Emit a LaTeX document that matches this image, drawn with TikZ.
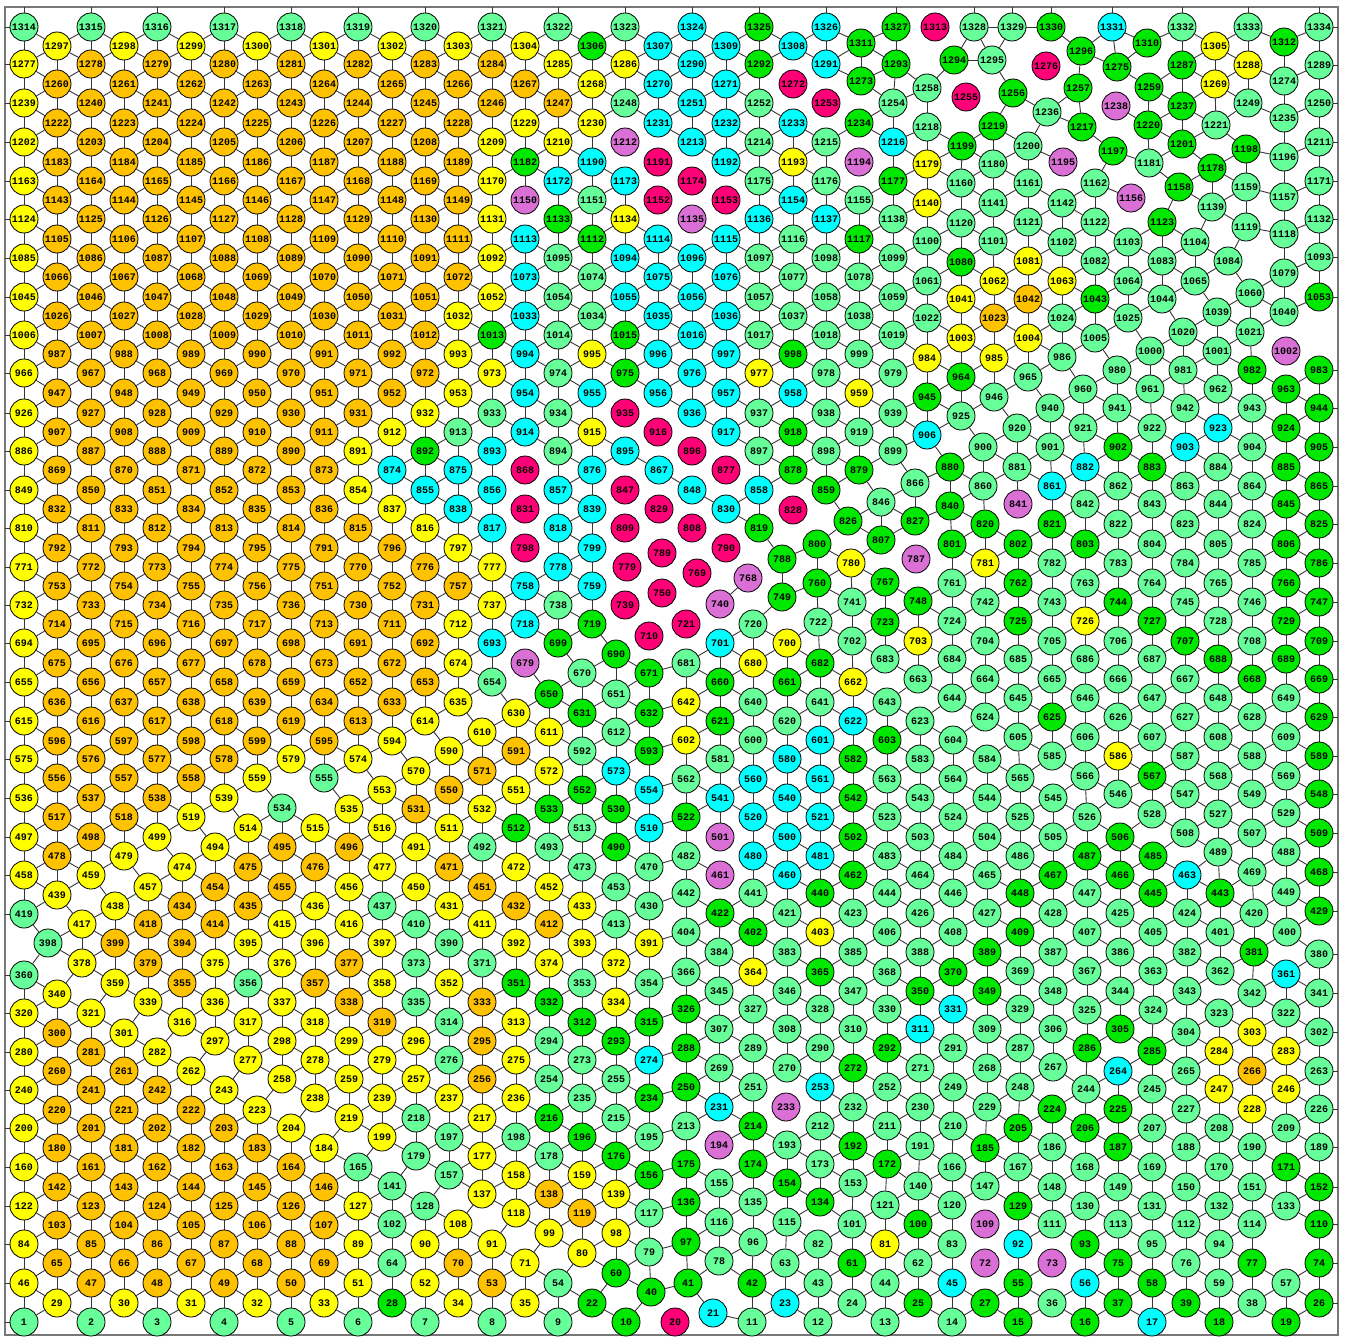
\documentclass[tikz,border=0pt]{standalone}
\usepackage{fontspec}
\setmonofont{Liberation Mono}
\usetikzlibrary{backgrounds}
\definecolor{mintgreen}{RGB}{102,255,153}
\definecolor{brightgreen}{RGB}{0,232,0}
\definecolor{sunyellow}{RGB}{255,255,0}
\definecolor{amber}{RGB}{255,194,0}
\definecolor{aqua}{RGB}{0,255,255}
\definecolor{hotpink}{RGB}{255,0,119}
\definecolor{orchidpurple}{RGB}{218,112,214}
\definecolor{linkgray}{RGB}{55,55,55}
\definecolor{framegray}{RGB}{120,120,120}
\newcount\ja
\newcount\jend
\def\nx#1{\csname px@#1\endcsname}
\def\ny#1{\csname py@#1\endcsname}
\def\nok#1{\csname pk@#1\endcsname}
\def\edgerange{1700}
\tikzset{
  sensor/.style={circle, draw=black, line width=0.8pt, minimum size=28pt, inner sep=0pt,
                 font=\ttfamily\bfseries\fontsize{10}{10}\selectfont},
  sm/.style={sensor, fill=mintgreen},
  sg/.style={sensor, fill=brightgreen},
  sy/.style={sensor, fill=sunyellow},
  so/.style={sensor, fill=amber},
  sc/.style={sensor, fill=aqua},
  sr/.style={sensor, fill=hotpink},
  sv/.style={sensor, fill=orchidpurple},
  link/.style={draw=linkgray, line width=0.9pt},
  frameline/.style={draw=framegray, line width=1.6pt},
}
% id/x/y/colour, x and y read off a 3x crop whose corner is (#1,#2)
\newcommand{\placetile}[3]{%
  \foreach \i/\x/\y/\col in {#3}{%
    \edef\nid{\number\i}%
    \edef\px{\the\numexpr#1+\x/3\relax}%
    \edef\py{\the\numexpr#2+\y/3\relax}%
    \expandafter\xdef\csname px@\nid\endcsname{\px}%
    \expandafter\xdef\csname py@\nid\endcsname{\py}%
    \expandafter\xdef\csname pk@\nid\endcsname{\if r\col0\else\if v\col0\else1\fi\fi}%
    \node[s\col] (n\nid) at (\px,\py) {\nid};
  }}

\begin{document}
\begin{tikzpicture}[x=1pt, y=-1pt]
\useasboundingbox (0,0) rectangle (1346,1338);
\coordinate (frameNW) at (5,7);
\coordinate (frameSE) at (1338,1335);

\placetile{0}{0}{1314/72/80/m,1315/272/80/m,1316/472/80/m,1317/672/80/m,1318/872/80/m,
1297/172/137/y,1298/372/137/y,1299/572/137/y,1300/772/137/y,1301/972/137/y,
1277/72/193/y,1278/272/193/o,1279/472/193/o,1280/672/193/o,1281/872/193/o,
1260/172/253/o,1261/372/253/o,1262/572/253/o,1263/772/253/o,1264/972/253/o,
1239/72/310/y,1240/272/310/o,1241/472/310/o,1242/672/310/o,1243/872/310/o,
1222/172/368/o,1223/372/368/o,1224/572/368/o,1225/772/368/o,1226/972/368/o,
1202/72/425/y,1203/272/425/o,1204/472/425/o,1205/672/425/o,1206/872/425/o,
1183/172/485/o,1184/372/485/o,1185/572/485/o,1186/772/485/o,1187/972/485/o,
1163/72/542/y,1164/272/542/o,1165/472/542/o,1166/672/542/o,1167/872/542/o,
1143/172/599/o,1144/372/599/o,1145/572/599/o,1146/772/599/o,1147/972/599/o,
1124/72/658/y,1125/272/658/o,1126/472/658/o,1127/672/658/o,1128/872/658/o,
1105/172/716/o,1106/372/716/o,1107/572/716/o,1108/772/716/o,1109/972/716/o,
1085/72/773/y,1086/272/773/o,1087/472/773/o,1088/672/773/o,1089/872/773/o,
1066/172/832/o,1067/372/832/o,1068/572/832/o,1069/772/832/o,1070/972/832/o,
1045/72/890/y,1046/272/890/o,1047/472/890/o,1048/672/890/o,1049/872/890/o,
1026/172/947/o,1027/372/947/o,1028/572/947/o,1029/772/947/o,1030/972/947/o,
1006/72/1005/y,1007/272/1005/o,1008/472/1005/o,1009/672/1005/o,1010/872/1005/o,
987/172/1063/o,988/372/1063/o,989/572/1063/o,990/772/1063/o,991/972/1063/o,
966/72/1120/y,967/272/1120/o,968/472/1120/o,969/672/1120/o,970/872/1120/o,
947/172/1178/o,948/372/1178/o,949/572/1178/o,950/772/1178/o,951/972/1178/o,
926/72/1238/y,927/272/1238/o,928/472/1238/o,929/672/1238/o,930/872/1238/o,
907/172/1295/o,908/372/1295/o,909/572/1295/o,910/772/1295/o,911/972/1295/o}

\placetile{330}{0}{1319/85/80/m,1320/285/80/m,1321/485/80/m,1322/685/80/m,1323/885/80/m,
1302/185/137/y,1303/385/137/y,1304/585/137/y,1306/785/137/g,1307/985/137/c,
1282/85/193/o,1283/285/193/o,1284/485/193/o,1285/685/193/y,1286/885/193/y,
1265/185/253/o,1266/385/253/o,1267/585/253/o,1268/785/253/y,1270/985/253/c,
1244/85/310/o,1245/285/310/o,1246/485/310/o,1247/685/310/o,1248/885/310/m,
1227/185/368/o,1228/385/368/o,1229/585/368/y,1230/785/368/y,1231/985/368/c,
1207/85/425/o,1208/285/425/o,1209/485/425/y,1210/685/425/y,1212/885/425/v,
1188/185/485/o,1189/385/485/o,1182/585/485/g,1190/785/485/c,1191/985/485/r,
1168/85/542/o,1169/285/542/o,1170/485/542/y,1172/685/542/c,1173/885/542/c,
1148/185/599/o,1149/385/599/o,1150/585/599/v,1151/785/599/m,1152/985/599/r,
1129/85/658/o,1130/285/658/o,1131/485/658/y,1133/685/658/g,1134/885/658/y,
1110/185/716/o,1111/385/716/o,1113/585/716/c,1112/785/716/g,1114/985/716/c,
1090/85/773/o,1091/285/773/o,1092/485/773/y,1095/685/773/m,1094/885/773/c,
1071/185/832/o,1072/385/832/o,1073/585/832/c,1074/785/832/m,1075/985/832/c,
1050/85/890/o,1051/285/890/o,1052/485/890/y,1054/685/890/m,1055/885/890/c,
1031/185/947/o,1032/385/947/y,1033/585/947/c,1034/785/947/m,1035/985/947/c,
1011/85/1005/o,1012/285/1005/o,1013/485/1005/g,1014/685/1005/m,1015/885/1005/g,
992/185/1063/o,993/385/1063/y,994/585/1063/c,995/785/1063/y,996/985/1063/c,
971/85/1120/o,972/285/1120/o,973/485/1120/y,974/685/1120/m,975/885/1120/g,
952/185/1178/o,953/385/1178/y,954/585/1178/c,955/785/1178/c,956/985/1178/c,
931/85/1238/o,932/285/1238/y,933/485/1238/m,934/685/1238/m,935/885/1238/r,
912/185/1295/y,913/385/1295/m,914/585/1295/c,915/785/1295/y,916/985/1295/r}

\placetile{660}{0}{1324/97/80/c,1325/298/80/g,1326/498/80/c,1311/603/128/g,1327/708/80/g,1313/825/80/r,1328/942/80/m,
1309/197/137/c,1308/398/137/c,1290/97/193/c,1292/298/193/g,1291/498/193/c,1293/708/193/g,1294/882/180/g,1295/995/180/m,
1271/197/253/c,1272/398/253/r,1273/603/242/g,1258/802/263/m,1255/918/290/r,
1251/97/310/c,1252/298/310/m,1253/498/310/r,1254/698/310/m,
1232/197/368/c,1233/398/368/c,1234/598/368/g,1218/802/380/m,1219/1000/378/g,
1213/97/425/c,1214/298/425/m,1215/498/425/m,1216/698/425/c,1199/905/437/g,
1192/197/485/c,1193/398/485/y,1194/598/485/v,1179/802/493/y,1180/1000/493/m,
1174/97/542/r,1175/298/542/m,1176/498/542/m,1177/698/542/g,1160/902/550/m,
1153/197/599/r,1154/398/599/c,1155/598/599/m,1140/802/610/y,1141/1000/608/m,
1135/97/658/v,1136/298/658/c,1137/498/658/c,1138/698/658/m,1120/902/668/m,
1115/197/716/c,1116/398/716/m,1117/598/716/g,1100/802/724/m,1101/1000/724/m,
1096/97/773/c,1097/298/773/m,1098/498/773/m,1099/698/773/m,1080/902/785/g,
1076/197/832/c,1077/398/832/m,1078/598/832/m,1061/802/842/m,1062/1003/842/y,
1056/97/890/c,1057/298/890/m,1058/498/890/m,1059/698/890/m,1041/902/898/y,
1036/197/947/c,1037/398/947/m,1038/598/947/m,1022/802/955/m,1023/1003/955/o,
1016/97/1005/c,1017/298/1005/m,1018/498/1005/m,1019/698/1005/m,1003/902/1015/y,
997/197/1063/c,998/398/1063/g,999/598/1063/m,984/802/1073/y,985/1003/1073/y,
976/97/1120/c,977/298/1120/y,978/498/1120/m,979/698/1120/m,964/902/1130/g,
957/197/1178/c,958/398/1178/c,959/598/1178/y,945/802/1190/g,946/1003/1190/m,
936/97/1238/c,937/298/1238/m,938/498/1238/m,939/698/1238/m,925/902/1247/m,
917/197/1295/c,918/398/1295/g,919/598/1295/m,906/802/1305/c}

\placetile{995}{0}{1329/52/80/m,1330/168/80/g,1331/350/80/c,1332/560/80/m,1333/760/80/m,1334/972/80/m,
1310/455/128/g,1305/660/137/y,1312/866/125/g,
1296/258/152/g,1276/152/197/r,1275/365/200/g,1287/560/195/g,1288/760/195/y,1289/972/195/m,
1256/55/278/g,1257/248/265/g,1259/462/260/g,1269/660/253/y,1274/866/242/m,
1238/362/317/v,1237/562/317/g,1249/760/310/m,1250/972/310/m,
1236/155/335/m,1217/262/380/g,1220/460/375/g,1221/662/375/m,1235/866/355/m,
1200/100/437/m,1201/562/433/g,1198/752/448/g,1211/972/425/m,
1195/205/485/v,1197/355/452/g,1181/462/490/m,1196/866/472/m,
1178/652/505/g,1171/972/542/m,
1161/100/550/m,1162/300/550/m,1158/552/562/g,1159/752/562/m,1157/866/590/m,
1156/408/595/v,1142/200/610/m,1139/652/622/m,
1121/100/667/m,1122/300/667/m,1123/500/667/g,1119/752/680/m,1132/972/658/m,1118/866/703/m,
1102/200/725/m,1103/400/725/m,1104/600/725/m,
1081/100/783/y,1082/300/783/m,1083/500/783/m,1084/700/782/m,1093/972/772/m,
1063/200/842/y,1064/400/842/m,1065/600/842/m,1079/866/820/m,
1042/100/898/o,1043/300/898/g,1044/500/898/m,1060/765/878/m,1053/972/890/g,
1024/200/955/m,1025/400/955/m,1039/665/937/m,1040/866/935/m,
1004/100/1015/y,1005/300/1015/m,1020/565/995/m,1021/765/995/m,
986/200/1072/m,1000/465/1052/m,1001/665/1052/m,1002/872/1052/v,
965/100/1130/m,980/365/1110/m,981/565/1110/m,982/770/1110/g,983/972/1110/g,
960/265/1168/m,961/465/1168/m,962/670/1168/m,963/872/1168/g,
940/165/1225/m,941/365/1225/m,942/570/1225/m,943/770/1225/m,944/972/1225/g,
920/65/1283/m,921/265/1283/m,922/470/1283/m,923/670/1283/c,924/872/1283/g}

\placetile{0}{440}{886/72/32/y,887/272/32/o,888/472/32/o,889/672/32/o,890/872/32/o,
869/172/89/o,870/372/89/o,871/572/89/o,872/772/89/o,873/972/89/o,
849/72/149/y,850/272/149/o,851/472/149/o,852/672/149/o,853/872/149/o,
832/172/206/o,833/372/206/o,834/572/206/o,835/772/206/o,836/972/206/o,
810/72/263/y,811/272/263/o,812/472/263/o,813/672/263/o,814/872/263/o,
792/172/323/o,793/372/323/o,794/572/323/o,795/772/323/o,791/972/323/o,
771/72/380/y,772/272/380/o,773/472/380/o,774/672/380/o,775/872/380/o,
753/172/437/o,754/372/437/o,755/572/437/o,756/772/437/o,751/972/437/o,
732/72/494/y,733/272/494/o,734/472/494/o,735/672/494/o,736/872/494/o,
714/172/553/o,715/372/553/o,716/572/553/o,717/772/553/o,713/972/553/o,
694/72/610/y,695/272/610/o,696/472/610/o,697/672/610/o,698/872/610/o,
675/172/668/o,676/372/668/o,677/572/668/o,678/772/668/o,673/972/668/o,
655/72/727/y,656/272/727/o,657/472/727/o,658/672/727/o,659/872/727/o,
636/172/785/o,637/372/785/o,638/572/785/o,639/772/785/o,634/972/785/o,
615/72/842/y,616/272/842/o,617/472/842/o,618/672/842/o,619/872/842/o,
596/172/902/o,597/372/902/o,598/572/902/o,599/772/902/o,595/972/902/o,
575/72/958/y,576/272/958/o,577/472/958/o,578/672/958/o,579/872/958/y,
556/172/1015/o,557/372/1015/o,558/572/1015/o,559/772/1015/y,555/972/1015/m,
536/72/1073/y,537/272/1073/o,538/472/1073/o,539/672/1073/y,534/845/1105/m,
517/172/1132/o,518/372/1132/o,519/572/1132/y,514/745/1165/y,515/945/1165/y,
497/72/1190/y,498/272/1190/o,499/472/1190/y,494/645/1222/y,495/845/1222/o,
478/172/1247/o,479/372/1247/y,474/545/1280/y,475/745/1280/o,476/945/1280/o,
458/72/1305/y,459/272/1305/y}

\placetile{330}{440}{891/85/32/y,892/285/32/g,893/485/32/c,894/685/32/m,895/885/32/c,
874/185/89/c,875/385/89/c,868/585/89/r,876/785/89/c,867/987/89/c,
854/85/149/y,855/285/149/c,856/485/149/c,857/685/149/c,847/885/149/r,
837/185/206/y,838/385/206/c,831/585/206/r,839/785/206/c,829/987/206/r,
815/85/263/o,816/285/263/y,817/485/263/c,818/685/263/c,809/885/263/r,
796/185/323/o,797/385/323/y,798/585/323/r,799/785/323/c,789/995/340/r,
770/85/380/o,776/285/380/o,777/485/380/y,778/685/380/c,779/890/380/r,
752/185/437/o,757/385/437/o,758/585/437/c,759/785/437/c,750/995/458/r,
730/85/494/o,731/285/494/o,737/485/494/y,738/685/494/m,739/885/494/r,
711/185/553/o,712/385/553/y,718/585/553/c,719/785/553/g,710/958/587/r,
691/85/610/o,692/285/610/o,693/485/610/c,699/685/610/g,690/858/643/g,
672/185/668/o,674/385/668/y,679/585/668/v,670/757/700/m,671/958/700/g,
652/85/727/o,653/285/727/o,654/485/727/m,650/657/762/g,651/858/762/m,
633/185/785/o,635/385/785/y,630/557/818/y,631/757/818/g,632/958/818/g,
613/85/842/o,614/285/842/y,610/457/875/y,611/657/875/y,612/858/875/m,
594/185/902/y,590/357/932/y,591/557/932/o,592/757/932/m,593/958/932/g,
574/85/958/y,570/257/992/y,571/457/992/o,572/657/992/y,573/858/992/c,
553/157/1050/y,550/357/1050/o,551/557/1050/y,552/757/1050/g,554/958/1050/c,
535/57/1107/y,531/257/1107/o,532/457/1107/y,533/657/1107/g,530/858/1107/g,
516/157/1165/y,511/357/1165/y,512/557/1165/g,513/757/1165/m,510/958/1165/c,
496/57/1222/o,491/257/1222/y,492/457/1222/m,493/657/1222/m,490/858/1222/g,
477/157/1280/y,471/357/1280/o,472/557/1280/y,473/757/1280/m,470/958/1280/m}

\placetile{660}{440}{896/97/32/r,897/298/32/m,898/498/32/m,899/698/32/m,900/970/22/m,
877/197/89/r,878/398/89/g,879/598/89/g,880/870/80/g,
848/97/149/c,858/298/149/c,859/498/149/g,866/765/128/m,860/970/137/m,
830/197/206/c,828/400/210/r,846/663/185/m,840/870/197/g,
808/97/263/r,819/298/263/g,826/563/242/g,827/765/242/g,820/975/253/g,
790/197/323/r,800/470/311/g,807/663/300/g,801/875/311/g,
788/365/358/g,780/572/370/y,787/769/358/v,781/975/368/y,
769/112/400/r,768/264/415/v,760/470/428/g,767/675/425/g,761/875/428/m,
740/180/493/v,749/365/472/g,741/575/485/m,748/773/482/g,742/975/485/m,
721/79/551/r,720/280/551/m,722/473/545/m,723/675/545/g,724/875/542/m,
701/180/610/c,700/380/610/y,702/575/602/m,703/775/602/y,704/975/602/m,
681/79/668/m,680/280/668/y,682/480/668/g,683/675/658/m,684/875/658/m,
660/180/725/g,661/380/725/g,662/580/725/y,663/775/718/m,664/975/716/m,
642/79/785/y,640/280/785/m,641/480/785/m,643/680/785/m,644/875/775/m,
621/180/842/g,620/380/842/m,622/580/842/c,623/780/842/m,624/975/832/m,
602/79/899/y,600/280/899/m,601/480/899/c,603/680/899/g,604/880/899/m,
581/180/956/m,580/380/956/c,582/580/956/g,583/780/956/m,584/980/956/m,
562/79/1016/m,560/280/1016/c,561/480/1016/c,563/680/1016/m,564/880/1016/m,
541/180/1073/c,540/380/1073/c,542/580/1073/g,543/780/1073/m,544/980/1073/m,
522/79/1130/g,520/280/1130/c,521/480/1130/c,523/680/1130/m,524/880/1130/m,
501/180/1190/v,500/380/1190/c,502/580/1190/g,503/780/1190/m,504/980/1190/m,
482/79/1247/m,480/280/1247/c,481/480/1247/c,483/680/1247/m,484/880/1247/m,
461/180/1305/v,460/380/1305/c,462/580/1305/g,464/780/1305/m,465/980/1305/m}

\placetile{995}{440}{901/165/22/m,902/370/22/g,903/570/22/c,904/770/22/m,905/972/22/g,
881/65/80/m,882/270/80/c,883/470/80/g,884/670/80/m,885/872/80/g,
861/170/137/c,862/370/137/m,863/570/137/m,864/770/137/m,865/972/137/g,
841/70/193/v,842/270/193/m,843/470/193/m,844/670/193/m,845/872/193/g,
821/170/253/g,822/370/253/m,823/570/253/m,824/770/253/m,825/972/253/g,
802/70/311/g,803/270/311/g,804/470/311/m,805/670/311/m,806/872/311/g,
782/170/368/m,783/370/368/m,784/570/368/m,785/770/368/m,786/972/368/g,
762/70/428/g,763/270/428/m,764/470/428/m,765/670/428/m,766/872/428/g,
743/170/485/m,744/370/485/g,745/570/485/m,746/770/485/m,747/972/485/g,
725/70/542/g,726/270/542/y,727/470/542/g,728/670/542/m,729/872/542/g,
705/170/602/m,706/370/602/m,707/570/602/g,708/770/602/m,709/972/602/g,
685/70/658/m,686/270/658/m,687/470/658/m,688/670/658/g,689/872/658/g,
665/170/716/m,666/370/716/m,667/570/716/m,668/770/716/g,669/972/716/g,
645/70/775/m,646/270/773/m,647/470/773/m,648/670/773/m,649/872/773/m,
625/170/832/g,626/370/832/m,627/570/832/m,628/770/832/m,629/972/832/g,
605/70/890/m,606/270/890/m,607/470/890/m,608/670/890/m,609/872/890/m,
585/170/948/m,586/370/948/y,587/570/947/m,588/770/947/m,589/972/947/g,
565/75/1015/m,566/270/1007/m,567/470/1007/g,568/670/1007/m,569/872/1007/m,
545/175/1073/m,546/370/1063/m,547/570/1063/m,549/770/1063/m,548/972/1063/g,
525/75/1130/m,526/275/1130/m,528/470/1123/m,527/670/1123/m,529/872/1120/m,
505/175/1190/m,506/375/1190/g,508/570/1180/m,507/770/1180/m,509/972/1178/g,
486/75/1247/m,487/275/1247/g,485/475/1247/g,489/670/1237/m,488/872/1237/m,
467/175/1305/g,466/375/1305/g,463/577/1305/c,469/770/1295/m,468/972/1297/g}

\placetile{0}{880}{439/172/44/y,457/445/20/y,454/645/20/o,455/845/20/o,
419/72/101/m,438/345/77/y,434/545/77/o,435/745/77/o,436/945/77/y,
417/245/133/y,418/445/133/o,414/645/133/o,415/845/133/y,
398/145/190/m,399/345/190/o,394/545/190/o,395/745/190/y,396/945/190/y,
378/245/250/y,379/445/250/o,375/645/250/y,376/845/250/y,
360/72/284/m,340/172/341/y,359/345/308/y,355/545/308/o,356/745/308/m,357/945/308/o,
320/72/398/y,321/272/398/y,339/445/365/y,336/645/365/y,337/845/365/y,
300/172/458/o,301/372/458/y,316/545/425/y,317/745/425/y,318/945/425/y,
280/72/515/y,281/272/515/o,282/472/515/y,297/645/482/y,298/845/482/y,
260/172/572/o,261/372/572/o,262/572/572/y,277/745/540/y,278/945/540/y,
240/72/629/y,241/272/629/o,242/472/629/o,243/672/629/y,258/845/597/y,
220/172/689/o,221/372/689/o,222/572/689/o,223/772/689/y,238/945/655/y,
200/72/745/y,201/272/745/o,202/472/745/o,203/672/745/o,204/872/745/y,
180/172/803/o,181/372/803/o,182/572/803/o,183/772/803/o,184/972/803/y,
160/72/862/y,161/272/862/o,162/472/862/o,163/672/862/o,164/872/862/o,
142/172/920/o,143/372/920/o,144/572/920/o,145/772/920/o,146/972/920/o,
122/72/977/y,123/272/977/o,124/472/977/o,125/672/977/o,126/872/977/o,
103/172/1035/o,104/372/1035/o,105/572/1035/o,106/772/1035/o,107/972/1035/o,
84/72/1093/y,85/272/1093/o,86/472/1093/o,87/672/1093/o,88/872/1093/o,
65/172/1150/o,66/372/1150/o,67/572/1150/o,68/772/1150/o,69/972/1150/o,
46/72/1208/y,47/272/1208/o,48/472/1208/o,49/672/1208/o,50/872/1208/o,
29/172/1268/y,30/372/1268/y,31/572/1268/y,32/772/1268/y,33/972/1268/y,
1/72/1325/m,2/272/1325/m,3/472/1325/m,4/672/1325/m,5/872/1325/m}

\placetile{330}{880}{456/57/20/y,450/257/20/y,451/457/20/o,452/657/20/y,453/858/20/m,
437/157/77/m,431/357/77/y,432/557/77/o,433/757/77/y,430/958/77/m,
416/57/133/y,410/257/133/m,411/457/133/y,412/657/133/o,413/858/133/m,
397/157/190/y,390/357/190/m,392/557/190/y,393/757/190/y,391/958/190/y,
377/57/250/o,373/257/250/m,371/457/250/m,374/657/250/y,372/858/250/y,
358/157/308/y,352/357/308/y,351/557/308/g,353/757/308/m,354/958/308/m,
338/57/365/o,335/257/365/m,333/457/365/o,332/657/365/g,334/858/365/y,
319/157/425/o,314/357/425/m,313/557/425/y,312/757/425/g,315/958/425/g,
299/57/482/y,296/257/482/y,295/457/482/o,294/657/482/m,293/858/482/g,
279/157/540/y,276/357/540/m,275/557/540/y,273/757/540/m,274/958/540/c,
259/57/597/y,257/257/597/y,256/457/597/o,254/657/597/m,255/858/597/m,
239/157/655/y,237/357/655/y,236/557/655/y,235/757/655/m,234/958/655/g,
219/57/713/y,218/257/713/m,217/457/713/y,216/657/713/g,215/858/713/m,
199/157/770/y,197/357/770/m,198/557/770/m,196/757/770/g,195/958/770/m,
165/85/862/m,179/257/828/m,177/457/828/y,178/657/828/m,176/858/828/g,
141/185/918/m,157/357/885/m,158/557/885/y,159/757/885/y,156/958/885/g,
138/657/943/o,137/457/943/y,139/858/943/y,127/85/977/y,128/285/977/m,
102/185/1033/m,108/385/1033/y,118/557/1000/y,119/757/1000/o,117/958/1000/m,
89/85/1093/y,90/285/1093/y,91/485/1093/y,99/657/1060/y,98/858/1060/y,
64/185/1150/m,70/385/1150/o,71/585/1150/y,80/757/1118/y,79/958/1117/m,
51/85/1208/y,52/285/1208/y,53/485/1208/o,54/685/1208/m,60/858/1178/g,40/962/1235/g,
28/185/1268/g,34/385/1268/y,35/585/1268/y,22/787/1268/g,
6/85/1325/m,7/285/1325/m,8/485/1325/m,9/685/1325/m,10/888/1325/g}

\placetile{660}{880}{442/79/40/m,441/280/40/m,440/480/40/g,444/680/40/m,446/880/40/m,
422/180/100/g,421/380/100/m,423/580/100/m,426/780/100/m,427/980/100/m,
404/79/157/m,402/280/157/g,403/480/157/y,406/680/157/m,408/880/157/m,
384/178/215/m,383/380/215/m,385/580/215/m,388/780/215/m,389/980/215/g,
366/79/275/m,364/280/275/y,365/480/275/g,368/680/275/m,370/880/275/g,
345/178/332/m,346/380/332/m,347/580/332/m,350/780/332/g,349/980/332/g,
326/79/388/g,327/280/388/m,328/480/388/m,330/680/388/m,331/880/388/c,
307/178/446/m,308/380/446/m,310/580/446/m,311/780/446/c,309/980/446/m,
288/79/505/g,289/280/505/m,290/480/505/m,292/680/505/g,291/880/505/m,
269/178/563/m,270/380/563/m,272/580/563/g,271/780/563/m,268/980/563/m,
250/79/620/g,251/280/620/m,253/480/620/c,252/680/620/m,249/880/622/m,
231/178/680/c,233/378/680/v,232/580/680/m,230/780/680/m,229/980/680/m,
213/79/737/m,214/280/737/g,212/480/737/m,211/680/737/m,210/880/737/m,
194/178/795/v,193/380/795/m,192/580/797/g,191/780/797/m,185/975/803/g,
175/79/853/g,174/280/853/g,173/480/853/m,172/680/853/g,166/875/862/m,
155/178/910/m,154/380/910/g,153/580/910/m,140/775/918/m,147/975/918/m,
136/79/967/g,135/280/967/m,134/480/967/g,121/675/975/m,120/875/975/m,
116/178/1027/m,115/380/1027/m,101/575/1033/m,100/775/1033/g,109/975/1033/v,
97/79/1085/g,96/280/1085/m,82/475/1093/m,81/675/1093/y,83/875/1093/m,
78/178/1142/m,63/375/1150/m,61/575/1150/g,62/775/1150/m,72/975/1150/v,
41/85/1210/g,42/275/1208/g,43/475/1208/m,44/675/1208/m,45/875/1208/c,
21/160/1300/c,23/375/1268/c,24/575/1268/m,25/775/1268/g,27/975/1268/g,
20/45/1325/r,11/275/1325/m,12/475/1325/m,13/675/1325/m,14/875/1325/m}

\placetile{995}{880}{448/75/40/g,447/275/40/m,445/475/40/g,443/675/40/g,449/872/35/m,
428/175/100/m,425/375/100/m,424/577/100/m,420/777/100/m,429/972/92/g,
409/75/157/g,407/275/157/m,405/475/157/m,401/675/157/m,400/877/157/m,
387/175/215/m,386/375/215/m,382/577/217/m,381/777/217/g,380/972/223/m,
369/75/273/m,367/275/273/m,363/475/273/m,362/675/273/m,361/872/283/c,
348/175/332/m,344/375/332/m,343/577/332/m,342/772/340/m,341/972/340/m,
329/75/388/m,325/275/390/m,324/475/390/m,323/672/398/m,322/872/398/m,
306/175/448/m,305/375/448/g,304/572/457/m,303/772/457/y,302/972/457/m,
287/75/505/m,286/275/505/g,285/472/513/g,284/672/513/y,283/872/513/y,
267/175/562/m,264/370/572/c,265/572/572/m,266/772/572/o,263/972/572/m,
248/75/622/m,244/272/628/m,245/472/628/m,247/672/628/y,246/872/628/y,
224/170/688/g,225/370/688/g,227/572/688/m,228/772/688/y,226/972/688/m,
205/70/745/g,206/270/745/g,207/472/745/m,208/672/745/m,209/872/745/m,
186/170/802/m,187/370/802/g,188/572/802/m,190/772/802/m,189/972/802/m,
167/70/862/m,168/270/862/m,169/470/862/m,170/672/862/m,171/872/862/g,
148/170/920/m,149/370/920/m,150/572/920/m,151/772/920/m,152/972/920/g,
129/70/977/g,130/270/977/m,131/470/977/m,132/672/977/m,133/872/977/m,
111/170/1033/m,113/370/1033/m,112/572/1033/m,114/772/1033/m,110/972/1033/g,
92/70/1093/c,93/270/1093/g,95/470/1093/m,94/672/1093/m,
73/170/1150/v,75/370/1150/g,76/572/1150/m,77/772/1150/g,74/972/1150/g,
55/70/1208/g,56/270/1208/c,58/470/1208/g,59/672/1208/m,57/872/1208/m,
36/170/1268/m,37/370/1268/g,39/572/1268/g,38/772/1268/m,26/972/1268/g,
15/70/1325/g,16/270/1325/g,17/472/1325/c,18/672/1325/g,19/872/1325/g}

\begin{pgfonlayer}{background}
\fill[white] (0,0) rectangle (1346,1338);
\draw[frameline] (frameNW) rectangle (frameSE);
% links between sensors in range (ids are sorted by height)
\foreach \i in {1,...,1333}{%
  \ja=\numexpr\i+1\relax
  \jend=\numexpr\i+66\relax
  \ifnum\jend>1335 \jend=1335 \fi
  \loop\ifnum\ja<\jend
    \edef\j{\the\ja}%
    \ifnum\nok{\i}\nok{\j}=11
      \ifnum\numexpr(\nx{\i}-\nx{\j})*(\nx{\i}-\nx{\j})+(\ny{\i}-\ny{\j})*(\ny{\i}-\ny{\j})\relax<\edgerange\relax
        \draw[link] (n\i) -- (n\j);
      \fi
    \fi
    \advance\ja by 1
  \repeat}
\foreach \a/\b in {1182/1150,1115/1135,1200/1195,1220/1238,1162/1156,881/841,
                   740/768,650/679,541/501,482/461,214/194,55/73}
  \draw[link] (n\a) -- (n\b);
% stubs to the border
\foreach \k in {1,46,84,122,160,200,240,280,320,360,419,458,497,536,575,615,655,694,732,771,
                810,849,886,926,966,1006,1045,1085,1124,1163,1202,1239,1277,1314}
  \draw[link] (n\k) -- (n\k -| frameNW);
\foreach \k in {26,74,110,152,189,226,263,302,341,380,429,468,509,548,589,629,669,709,747,786,
                825,865,905,944,983,1053,1093,1132,1171,1211,1250,1289,1334}
  \draw[link] (n\k) -- (n\k -| frameSE);
\foreach \k in {1314,1315,1316,1317,1318,1319,1320,1321,1322,1323,1324,1325,1326,1327,1328,
                1329,1330,1331,1332,1333,1334}
  \draw[link] (n\k) -- (n\k |- frameNW);
\foreach \k in {1,...,19}
  \draw[link] (n\k) -- (n\k |- frameSE);
\end{pgfonlayer}
\end{tikzpicture}
\end{document}
